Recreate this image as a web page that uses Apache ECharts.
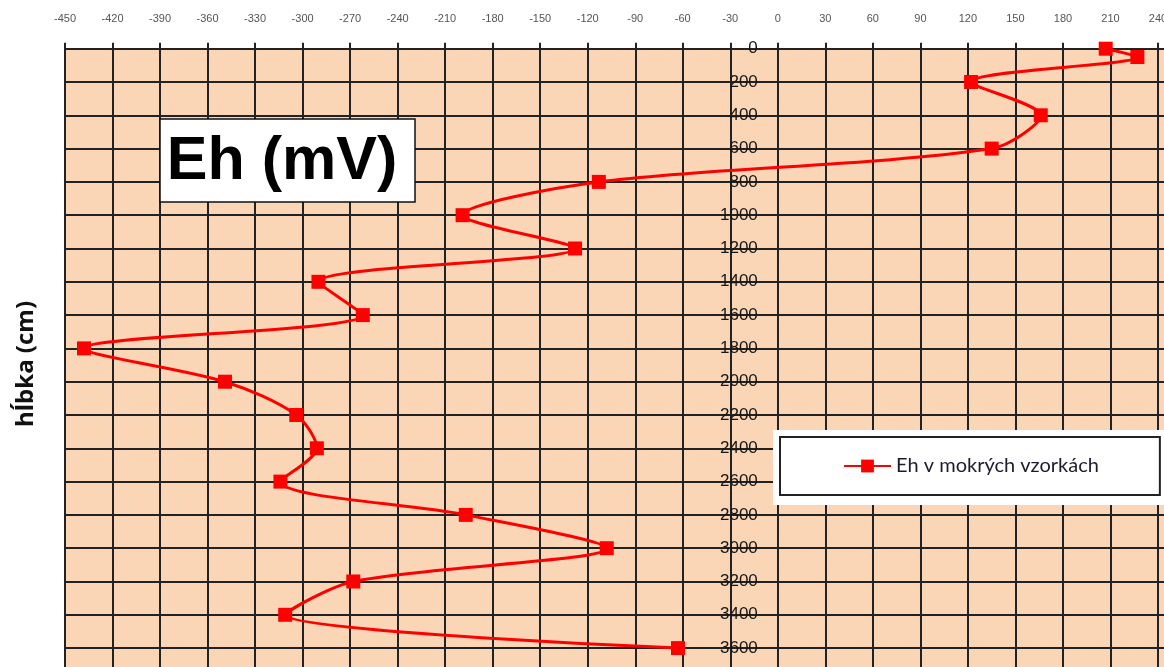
<!DOCTYPE html>
<html><head><meta charset="utf-8">
<script src="https://cdn.jsdelivr.net/npm/echarts@6/dist/echarts.min.js"></script>
<style>html,body{margin:0;padding:0;background:#fff}#c{width:1164px;height:667px}</style>
</head><body><div id="c"></div>
<script>
const depths = [0, 50, 200, 400, 600, 800, 1000, 1200, 1400, 1600, 1800, 2000, 2200, 2400, 2600, 2800, 3000, 3200, 3400, 3600];
const ehValues = [207, 227, 122, 166, 135, -113, -199, -128, -290, -262, -438, -349, -304, -291, -314, -197, -108, -268, -311, -63];
const seriesName = 'Eh v mokrých vzorkách';
const chartTitle = 'Eh (mV)';
const yAxisTitle = 'hĺbka (cm)';
const xMin = -450, xMax = 270, xStep = 30;
const yMin = 0, yMax = 3800, yStep = 200;

const points = depths.map((d, i) => [ehValues[i], d]);
const gridLeft = 65, gridTop = 48.7, gridWidth = 1140.5, gridHeight = 632.7;
const chart = echarts.init(document.getElementById('c'));
chart.setOption({
  animation: false,
  backgroundColor: '#ffffff',
  grid: {
    left: gridLeft, top: gridTop, width: gridWidth, height: gridHeight,
    outerBoundsMode: 'none', containLabel: false,
    show: true, backgroundColor: '#fad6b7', borderWidth: 0
  },
  xAxis: {
    type: 'value', position: 'top', min: xMin, max: xMax, interval: xStep,
    axisLine: { show: true, onZero: false, lineStyle: { color: '#222', width: 2 } },
    axisTick: { show: true, length: 6, lineStyle: { color: '#222', width: 2 } },
    axisLabel: { color: '#555', fontSize: 11, margin: 24, fontFamily: 'Liberation Sans', showMaxLabel: true },
    splitLine: { show: true, lineStyle: { color: '#222', width: 2 } }
  },
  yAxis: {
    type: 'value', inverse: true, min: yMin, max: yMax, interval: yStep,
    offset: -(0 - xMin) / (xMax - xMin) * gridWidth,
    axisLine: { show: true, onZero: false, lineStyle: { color: '#222', width: 2 } },
    axisTick: { show: false },
    axisLabel: { color: '#161616', fontSize: 17, margin: 20, fontFamily: 'Liberation Sans', formatter: v => String(v) },
    splitLine: { show: true, lineStyle: { color: '#222', width: 2 } }
  },
  legend: {
    show: true, left: 780, top: 437,
    data: [seriesName],
    backgroundColor: '#ffffff', borderColor: '#222', borderWidth: 2,
    padding: [19, 61, 19, 63],
    itemWidth: 47, itemHeight: 16, itemGap: 6,
    textStyle: { color: '#1c1c30', fontSize: 20, fontFamily: 'Lato' }
  },
  graphic: [
    { type: 'rect', z: 3, shape: { x: 773, y: 430, width: 391, height: 75 }, style: { fill: '#ffffff' } },
    { type: 'rect', z: 10, shape: { x: 160, y: 119, width: 255, height: 83 }, style: { fill: '#ffffff', stroke: '#111', lineWidth: 1.5 } },
    { type: 'text', z: 11, x: 282, y: 162, style: { text: chartTitle, font: 'bold 61px "Liberation Sans"', fill: '#000', align: 'center', verticalAlign: 'middle' } },
    { type: 'text', z: 11, x: 26, y: 364, rotation: Math.PI / 2, style: { text: yAxisTitle, font: 'bold 24px "Open Sans"', fill: '#111', align: 'center', verticalAlign: 'middle' } }
  ],
  series: [{
    name: seriesName, type: 'line', data: points, smooth: 0.3,
    symbol: 'rect', symbolSize: 14,
    itemStyle: { color: '#ff0000' },
    lineStyle: { color: '#ff0000', width: 3 },
    z: 5
  }]
});
</script></body></html>
